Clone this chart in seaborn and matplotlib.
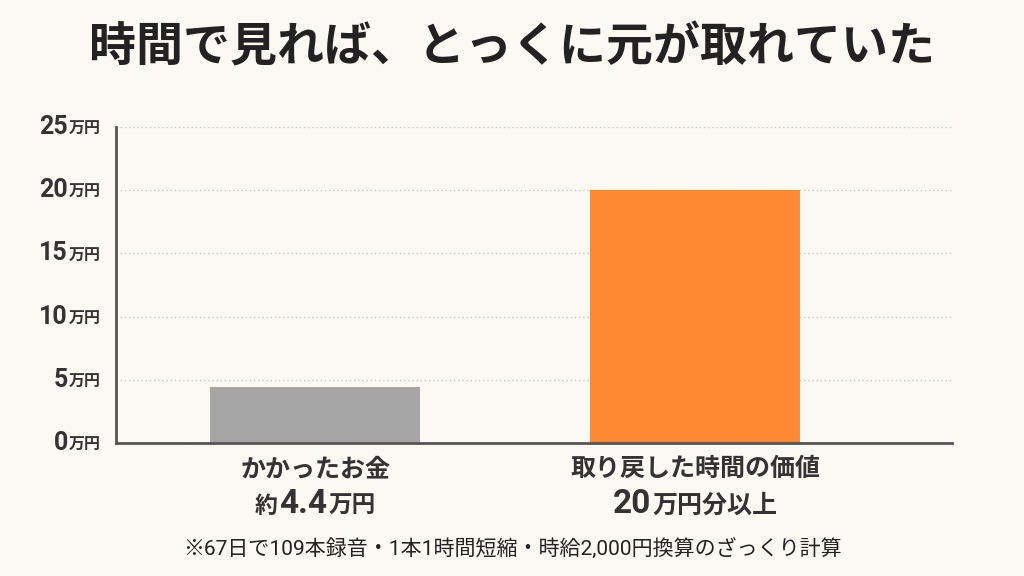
import matplotlib
matplotlib.use('Agg')
import matplotlib.pyplot as plt
import matplotlib.transforms as mtransforms
from matplotlib.offsetbox import TextArea, HPacker, VPacker, AnnotationBbox
import seaborn as sns
import pandas as pd

# ── Data ─────────────────────────────────────────────────────────────────────
categories    = ["かかったお金", "取り戻した時間の価値"]
values        = [4.4, 20.0]            # 万円
value_prefix  = ["約", ""]
value_number  = ["4.4", "20"]
value_suffix  = ["万円", "万円分以上"]
y_ticks       = [0, 5, 10, 15, 20, 25]
title         = "時間で見れば、とっくに元が取れていた"
footnote      = "※67日で109本録音・1本1時間短縮・時給2,000円換算のざっくり計算"

# ── Style ────────────────────────────────────────────────────────────────────
BG     = "#FCF9F2"
GRAY   = "#A6A6A6"
ORANGE = "#FF8A33"
TXT    = "#333333"
SPINE  = "#555555"
FONTS  = ['Roboto', 'Noto Sans CJK JP', 'DejaVu Sans']

sns.set_theme(style="white")
plt.rcParams['font.family'] = FONTS

fig = plt.figure(figsize=(10.24, 5.76), dpi=100, facecolor=BG)
ax = fig.add_axes([0.1133, 0.2309, 0.8164, 0.5486])
ax.set_facecolor(BG)

df = pd.DataFrame({"cat": categories, "val": values})
sns.barplot(data=df, x="cat", y="val", hue="cat", palette=[GRAY, ORANGE],
            width=0.553, saturation=1, legend=False, ax=ax, linewidth=0)

ax.set_xlim(-0.524, 1.676)
ax.set_ylim(0, 25)
ax.set_yticks(y_ticks)
ax.set_yticklabels([])
ax.set_xticklabels([])
ax.set_xlabel(""); ax.set_ylabel("")
ax.tick_params(length=0)
ax.yaxis.grid(True, linestyle=(0, (1, 2)), color="#C8C8C8", linewidth=1)
ax.set_axisbelow(True)
for s in ["top", "right"]:
    ax.spines[s].set_visible(False)
for s in ["left", "bottom"]:
    ax.spines[s].set_color(SPINE)
    ax.spines[s].set_linewidth(2)


def txt(s, size, bold=True):
    return TextArea(s, textprops=dict(fontsize=size, fontweight='bold' if bold else 'normal',
                                      color=TXT, family=FONTS))


# y tick labels: big number + small 万円
ytrans = mtransforms.blended_transform_factory(ax.transAxes, ax.transData)
for v in y_ticks:
    box = HPacker(children=[txt(str(v), 18), txt("万円", 11.5)],
                  align='baseline', pad=0, sep=1)
    ab = AnnotationBbox(box, (0, v), xycoords=ytrans, box_alignment=(1, 0.5),
                        xybox=(-15, 0), boxcoords='offset pixels', frameon=False)
    ax.add_artist(ab)

# category labels: name + value line with mixed sizes
xtrans = mtransforms.blended_transform_factory(ax.transData, ax.transAxes)
for i, cat in enumerate(categories):
    parts = []
    if value_prefix[i]:
        parts.append(txt(value_prefix[i], 16.5))
    parts.append(txt(value_number[i], 24))
    parts.append(txt(value_suffix[i], 18 if i else 17))
    line2 = HPacker(children=parts, align='baseline', pad=0, sep=1)
    box = VPacker(children=[txt(cat, 18), line2], align='center', pad=0, sep=5)
    ab = AnnotationBbox(box, (i, 0), xycoords=xtrans, box_alignment=(0.5, 1),
                        xybox=(0, -14), boxcoords='offset pixels', frameon=False)
    ax.add_artist(ab)

fig.text(0.5, 1 - 48 / 576, title, ha='center', va='center',
         fontsize=33.8, fontweight='bold', color="#222222")
fig.text(0.5, 1 - 549 / 576, footnote, ha='center', va='center',
         fontsize=15.1, color="#222222")

fig.savefig("out.png", dpi=100, facecolor=BG)
